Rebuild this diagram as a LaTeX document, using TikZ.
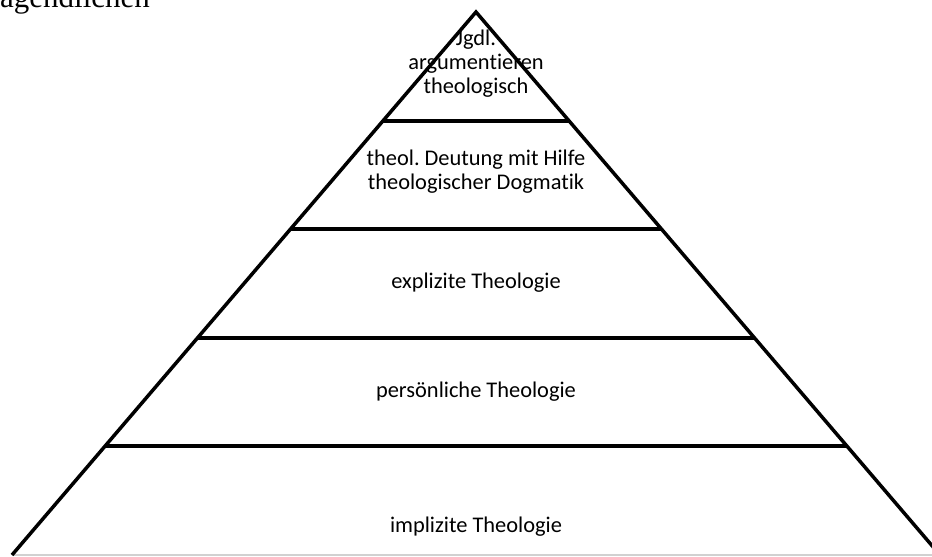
\documentclass[tikz,border=0pt]{standalone}
\usepackage{fontspec}
\setmainfont[Ligatures=NoCommon]{Carlito}
\newfontfamily\serifcut{Liberation Serif}
\usepackage{tikz}
\usetikzlibrary{calc}
\frenchspacing

\begin{document}
\begin{tikzpicture}[x=1pt,y=-1pt]
\tikzset{side/.style = {line width=3.5pt, line join=miter}}
\tikzset{layer/.style = {line width=4pt}}
\tikzset{base/.style = {line width=1.5pt, draw=black!18}}
\tikzset{level/.style = {align=center, inner sep=0pt, font=\fontsize{22.4}{24}\selectfont}}
\useasboundingbox (0,0) rectangle (932,557);
\coordinate (top) at (476,12);
\coordinate (bl) at (12,555);
\coordinate (br) at (940,555);
\foreach \i/\t in {1/0.2,2/0.4,3/0.6,4/0.8} {
  \coordinate (l\i) at ($(top)!\t!(bl)$);
  \coordinate (r\i) at ($(top)!\t!(br)$);
}
\node[anchor=base west, inner sep=0pt, font=\serifcut\fontsize{31}{31}\selectfont] (head) at (0,7.5) {agendlichen};
\draw[base] (bl) to (br);
\draw[side] (bl) -- (top) -- (br);
\foreach \i in {1,...,4} \draw[layer] (l\i) to (r\i);
\node[level] (jgdl) at (476,64) {Jgdl.\\argumentieren\\theologisch};
\node[level] (dogm) at (476,172) {theol. Deutung mit Hilfe\\theologischer Dogmatik};
\node[level] (expl) at (476,283) {explizite Theologie};
\node[level] (pers) at (476,392) {persönliche Theologie};
\node[level] (impl) at (476,527) {implizite Theologie};
\end{tikzpicture}
\end{document}
